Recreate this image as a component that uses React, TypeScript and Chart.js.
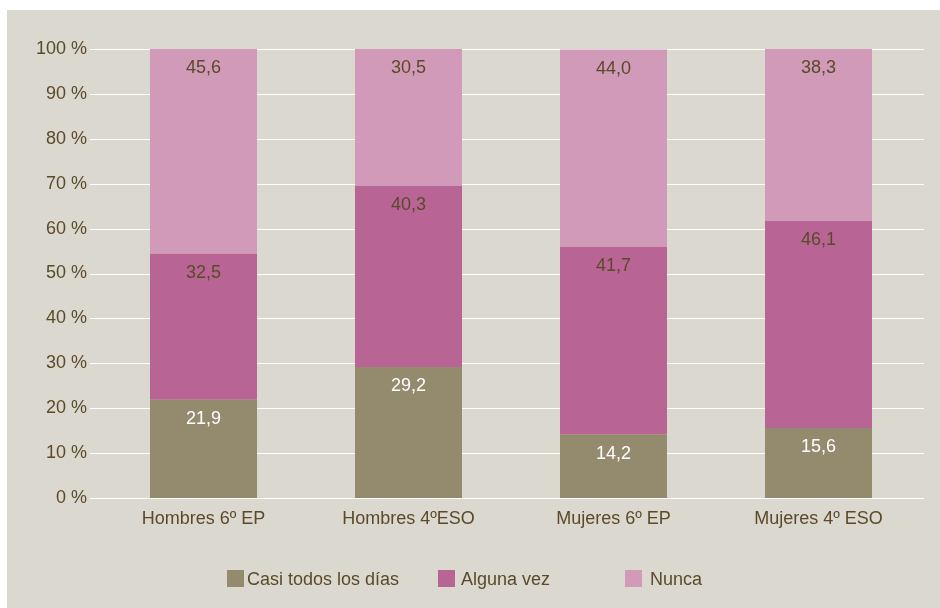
import React, { useEffect, useRef } from "react";
import { Chart, registerables } from "chart.js";

Chart.register(...registerables);

const categories = ["Hombres 6º EP", "Hombres 4ºESO", "Mujeres 6º EP", "Mujeres 4º ESO"];
const seriesNames = ["Casi todos los días", "Alguna vez", "Nunca"];
const casiTodos = [21.9, 29.2, 14.2, 15.6];
const algunaVez = [32.5, 40.3, 41.7, 46.1];
const nunca = [45.6, 30.5, 44.0, 38.3];
const yTicks = [0, 10, 20, 30, 40, 50, 60, 70, 80, 90, 100];

const TEXT = "#5b4a29";
const FONT = "'Liberation Sans', Arial, sans-serif";
const FS = 18;
const colors = ["#948a6e", "#b86495", "#d09ab8"];
const labelColors = ["#ffffff", TEXT, TEXT];

const fmt = (v: number) => v.toFixed(1).replace(".", ",");

const bgPlugin = {
  id: "bgPanel",
  beforeDraw(chart: any) {
    const { ctx, width, height } = chart;
    ctx.save();
    ctx.fillStyle = "#ffffff";
    ctx.fillRect(0, 0, width, height);
    ctx.fillStyle = "#dbd8d0";
    ctx.fillRect(7, 10, width - 7, height - 10);
    ctx.restore();
  },
};

const gridPlugin = {
  id: "extGrid",
  beforeDatasetsDraw(chart: any) {
    const { ctx } = chart;
    const y = chart.scales.y;
    ctx.save();
    ctx.strokeStyle = "#ffffff";
    ctx.lineWidth = 1.2;
    yTicks.forEach((t) => {
      const py = Math.round(y.getPixelForValue(t)) + 0.5;
      ctx.beginPath();
      ctx.moveTo(chart.chartArea.left - 11, py);
      ctx.lineTo(chart.chartArea.right + 3, py);
      ctx.stroke();
    });
    ctx.restore();
  },
};

const valueLabelPlugin = {
  id: "valueLabels",
  afterDatasetsDraw(chart: any) {
    const { ctx } = chart;
    ctx.save();
    ctx.font = `${FS}px ${FONT}`;
    ctx.textAlign = "center";
    ctx.textBaseline = "middle";
    chart.data.datasets.forEach((ds: any, di: number) => {
      const meta = chart.getDatasetMeta(di);
      meta.data.forEach((el: any, i: number) => {
        ctx.fillStyle = labelColors[di];
        ctx.fillText(fmt(ds.data[i]), el.x, el.y + 19.5);
      });
    });
    ctx.restore();
  },
};

const legendBoxX = [227, 438, 625];
const legendTextGap = [3, 6, 8];
const legendPlugin = {
  id: "customLegend",
  afterDraw(chart: any) {
    const { ctx } = chart;
    ctx.save();
    ctx.font = `${FS}px ${FONT}`;
    ctx.textAlign = "left";
    ctx.textBaseline = "middle";
    chart.data.datasets.forEach((ds: any, di: number) => {
      const bx = legendBoxX[di];
      ctx.fillStyle = ds.backgroundColor;
      ctx.fillRect(bx, 570, 17, 17);
      ctx.fillStyle = TEXT;
      ctx.fillText(ds.label, bx + 17 + legendTextGap[di], 580);
    });
    ctx.restore();
  },
};

export default function App() {
  const ref = useRef<HTMLCanvasElement | null>(null);
  useEffect(() => {
    if (!ref.current) return;
    const chart = new Chart(ref.current, {
      type: "bar",
      data: {
        labels: categories,
        datasets: [casiTodos, algunaVez, nunca].map((d, i) => ({
          label: seriesNames[i],
          data: d,
          backgroundColor: colors[i],
          borderWidth: 0,
          barPercentage: 0.522,
          categoryPercentage: 1,
        })),
      },
      options: {
        responsive: false,
        animation: false,
        devicePixelRatio: 1,
        layout: { padding: { left: 0, right: 19, top: 49, bottom: 0 } },
        plugins: {
          legend: { display: false },
          tooltip: { enabled: false },
          title: { display: false },
        },
        scales: {
          x: {
            stacked: true,
            grid: { display: false, drawTicks: false },
            border: { display: false },
            ticks: { color: TEXT, font: { family: FONT, size: FS }, padding: 10, maxRotation: 0 },
            afterFit: (s: any) => {
              s.height = 110;
            },
          },
          y: {
            stacked: true,
            min: 0,
            max: 100,
            grid: { display: false, drawTicks: false },
            border: { display: false },
            afterBuildTicks: (s: any) => {
              s.ticks = yTicks.map((v) => ({ value: v }));
            },
            ticks: {
              color: TEXT,
              font: { family: FONT, size: FS },
              padding: 14,
              callback: (v: any) => `${v} %`,
            },
            afterFit: (s: any) => {
              s.width = 101;
            },
          },
        },
      },
      plugins: [bgPlugin, gridPlugin, valueLabelPlugin, legendPlugin],
    });
    return () => chart.destroy();
  }, []);
  return (
    <div style={{ position: "absolute", left: 0, top: 0, width: 940, height: 608 }}>
      <canvas ref={ref} width={940} height={608} style={{ display: "block", width: 940, height: 608 }} />
    </div>
  );
}
